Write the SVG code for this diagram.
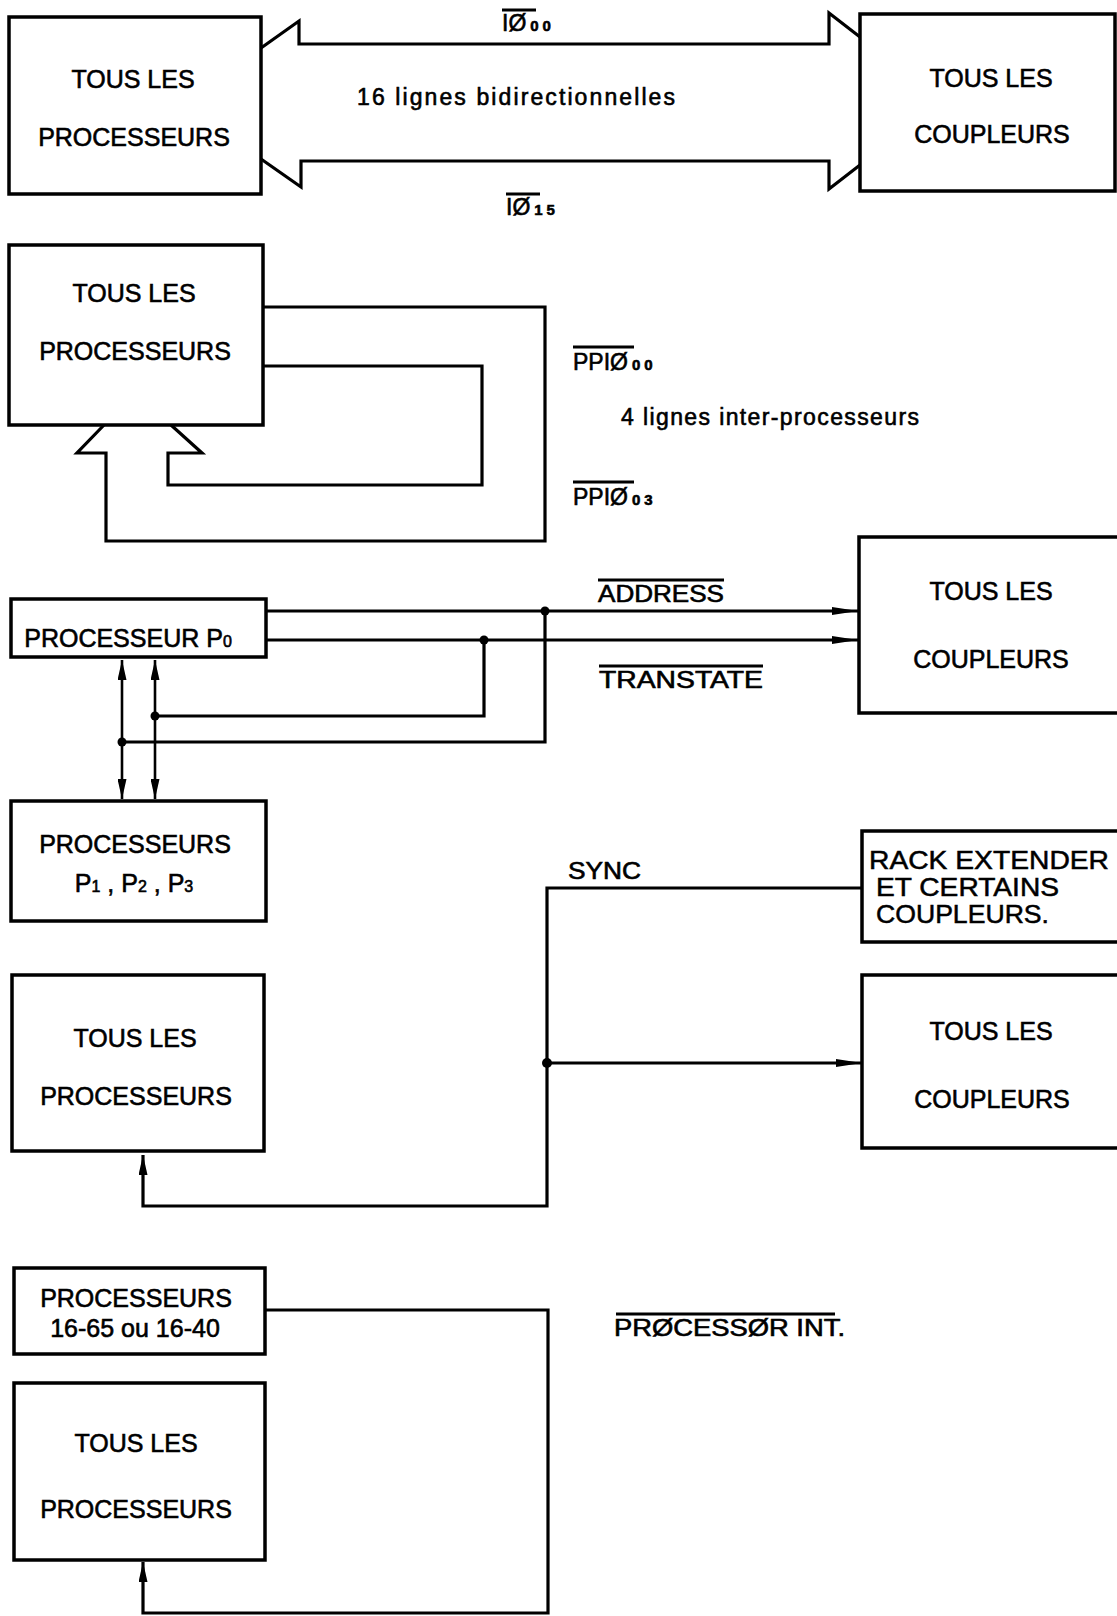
<svg xmlns="http://www.w3.org/2000/svg" width="1117" height="1616" viewBox="0 0 1117 1616">
<style>
  .box{fill:#fff;stroke:#000;stroke-width:3.5}
  .wire{fill:none;stroke:#000;stroke-width:3.2;stroke-linejoin:miter}
  .thin{fill:none;stroke:#000;stroke-width:2.6}
  .t{font-family:"Liberation Sans",Arial,sans-serif;font-size:25px;fill:#000;stroke:#000;stroke-width:0.6;text-anchor:middle}
  .tl{font-family:"Liberation Sans",Arial,sans-serif;font-size:25px;fill:#000;stroke:#000;stroke-width:0.5}
  .lbl{font-family:"Liberation Sans",Arial,sans-serif;font-size:23px;fill:#000;stroke:#000;stroke-width:0.6}
  .sub{font-size:15px;font-weight:bold;letter-spacing:4px}
  .idx{font-size:16px}
  .bar{stroke:#000;stroke-width:2.8}
  .dot{fill:#000}
</style>
<defs>
  <marker id="head" viewBox="0 0 20 9" refX="20" refY="4.5" markerWidth="20" markerHeight="9" markerUnits="userSpaceOnUse" orient="auto-start-reverse">
    <path d="M0,0 L20,4.5 L0,9 z" fill="#000"/>
  </marker>
  <marker id="headLong" viewBox="0 0 26 8" refX="26" refY="4" markerWidth="26" markerHeight="8" markerUnits="userSpaceOnUse" orient="auto">
    <path d="M0,0 L26,4 L0,8 z" fill="#000"/>
  </marker>
</defs>

<!-- connectors -->
<g id="connectors">
  <!-- 16-line bidirectional bus -->
  <polyline class="wire" points="261,48 299,21 299,44 829,44 829,13 860,37"/>
  <polyline class="wire" points="261,159 301,187 301,161 829,161 829,189 860,165"/>
  <!-- inter-processor loop back into the processors -->
  <path class="wire" d="M263,366 H482 V485 H168 V453 H202 L171,425 M104,425 L77,453 H106 V541 H545 V307 H263"/>
  <!-- ADDRESS / TRANSTATE -->
  <line class="wire" x1="266" y1="611" x2="858" y2="611" marker-end="url(#headLong)"/>
  <line class="wire" x1="266" y1="640" x2="858" y2="640" marker-end="url(#headLong)"/>
  <polyline class="wire" points="545,611 545,742 122,742"/>
  <polyline class="wire" points="484,640 484,716 155,716"/>
  <line class="thin" x1="122" y1="660" x2="122" y2="799" marker-start="url(#head)" marker-end="url(#head)"/>
  <line class="thin" x1="155" y1="660" x2="155" y2="799" marker-start="url(#head)" marker-end="url(#head)"/>
  <circle class="dot" cx="545" cy="611" r="4.5"/>
  <circle class="dot" cx="484" cy="640" r="4.5"/>
  <circle class="dot" cx="155" cy="716" r="4.5"/>
  <circle class="dot" cx="122" cy="742" r="4.5"/>
  <!-- SYNC -->
  <path class="wire" d="M862,888 H547 V1206 H143 V1155" marker-end="url(#head)"/>
  <line class="wire" x1="547" y1="1063" x2="862" y2="1063" marker-end="url(#headLong)"/>
  <circle class="dot" cx="547" cy="1063" r="5"/>
  <!-- PROCESSOR INT -->
  <path class="wire" d="M265,1310 H548 V1613 H143 V1562" marker-end="url(#head)"/>
</g>

<!-- signal labels -->
<g id="labels">
  <text class="lbl" x="502" y="31" font-size="24">IØ<tspan class="sub" dx="4">00</tspan></text>
  <line class="bar" x1="502" y1="10" x2="536" y2="10"/>
  <text class="lbl" x="357" y="105" font-size="23" textLength="318" lengthAdjust="spacing">16 lignes  bidirectionnelles</text>
  <text class="lbl" x="506" y="215" font-size="24">IØ<tspan class="sub" dx="4">15</tspan></text>
  <line class="bar" x1="506" y1="194" x2="540" y2="194"/>

  <text class="lbl" x="573" y="370" font-size="24">PPIØ<tspan class="sub" dx="4">00</tspan></text>
  <line class="bar" x1="573" y1="347" x2="634" y2="347"/>
  <text class="lbl" x="621" y="425" font-size="22" textLength="298" lengthAdjust="spacing">4 lignes inter-processeurs</text>
  <text class="lbl" x="573" y="505" font-size="24">PPIØ<tspan class="sub" dx="4">03</tspan></text>
  <line class="bar" x1="573" y1="482" x2="634" y2="482"/>

  <text class="lbl" x="598" y="602" textLength="126" lengthAdjust="spacingAndGlyphs">ADDRESS</text>
  <line class="bar" x1="598" y1="580" x2="724" y2="580"/>
  <text class="lbl" x="599" y="688" textLength="164" lengthAdjust="spacingAndGlyphs">TRANSTATE</text>
  <line class="bar" x1="599" y1="666" x2="763" y2="666"/>

  <text class="lbl" x="568" y="879" textLength="73" lengthAdjust="spacingAndGlyphs">SYNC</text>

  <text class="lbl" x="614" y="1336" textLength="231" lengthAdjust="spacingAndGlyphs">PRØCESSØR INT.</text>
  <line class="bar" x1="616" y1="1314" x2="835" y2="1314"/>
</g>

<!-- nodes -->
<g id="proc-all-1">
  <rect class="box" x="9" y="17" width="252" height="177"/>
  <text class="t" x="133" y="88">TOUS LES</text>
  <text class="t" x="134" y="146">PROCESSEURS</text>
</g>
<g id="coupl-all-1">
  <rect class="box" x="860" y="14" width="255" height="177"/>
  <text class="t" x="991" y="87">TOUS LES</text>
  <text class="t" x="992" y="143">COUPLEURS</text>
</g>
<g id="proc-all-2">
  <rect class="box" x="9" y="245" width="254" height="180"/>
  <text class="t" x="134" y="302">TOUS LES</text>
  <text class="t" x="135" y="360">PROCESSEURS</text>
</g>
<g id="proc-p0">
  <rect class="box" x="11" y="599" width="255" height="58"/>
  <text class="t" x="128" y="647">PROCESSEUR P<tspan class="idx">0</tspan></text>
</g>
<g id="proc-p123">
  <rect class="box" x="11" y="801" width="255" height="120"/>
  <text class="t" x="135" y="853">PROCESSEURS</text>
  <text class="t" x="134" y="892">P<tspan class="idx">1</tspan> , P<tspan class="idx">2</tspan> , P<tspan class="idx">3</tspan></text>
</g>
<g id="coupl-all-2">
  <rect class="box" x="859" y="537" width="270" height="176"/>
  <text class="t" x="991" y="600">TOUS LES</text>
  <text class="t" x="991" y="668">COUPLEURS</text>
</g>
<g id="rack-extender">
  <rect class="box" x="862" y="831" width="270" height="111"/>
  <text class="tl" x="869" y="869" textLength="240" lengthAdjust="spacingAndGlyphs">RACK EXTENDER</text>
  <text class="tl" x="876" y="896" textLength="183" lengthAdjust="spacingAndGlyphs">ET CERTAINS</text>
  <text class="tl" x="876" y="923" textLength="173" lengthAdjust="spacingAndGlyphs">COUPLEURS.</text>
</g>
<g id="coupl-all-3">
  <rect class="box" x="862" y="975" width="270" height="173"/>
  <text class="t" x="991" y="1040">TOUS LES</text>
  <text class="t" x="992" y="1108">COUPLEURS</text>
</g>
<g id="proc-all-3">
  <rect class="box" x="12" y="975" width="252" height="176"/>
  <text class="t" x="135" y="1047">TOUS LES</text>
  <text class="t" x="136" y="1105">PROCESSEURS</text>
</g>
<g id="proc-1665">
  <rect class="box" x="14" y="1268" width="251" height="86"/>
  <text class="t" x="136" y="1307">PROCESSEURS</text>
  <text class="t" x="135" y="1337">16-65 ou 16-40</text>
</g>
<g id="proc-all-4">
  <rect class="box" x="14" y="1383" width="251" height="177"/>
  <text class="t" x="136" y="1452">TOUS LES</text>
  <text class="t" x="136" y="1518">PROCESSEURS</text>
</g>
</svg>
